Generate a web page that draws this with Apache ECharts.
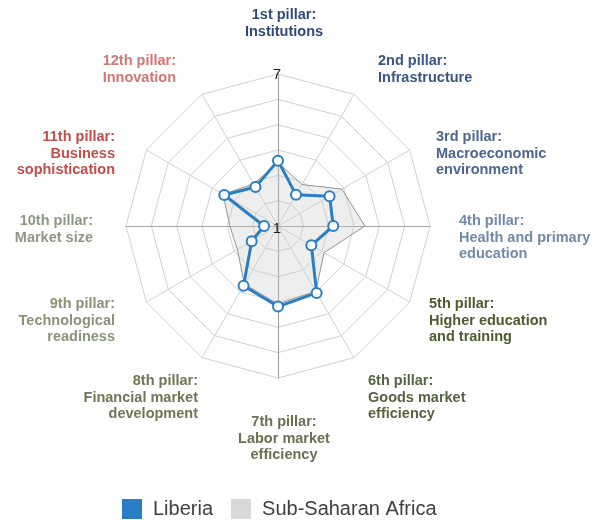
<!DOCTYPE html>
<html>
<head>
<meta charset="utf-8">
<script src="https://cdn.jsdelivr.net/npm/echarts@6/dist/echarts.min.js"></script>
<style>html,body{margin:0;padding:0;background:#fff}#c{width:603px;height:520px}</style>
</head>
<body>
<div id="c"></div>
<script>
// Indicators in clockwise order starting at the top
const pillarNames = [
  '1st pillar:\nInstitutions',
  '2nd pillar:\nInfrastructure',
  '3rd pillar:\nMacroeconomic\nenvironment',
  '4th pillar:\nHealth and primary\neducation',
  '5th pillar:\nHigher education\nand training',
  '6th pillar:\nGoods market\nefficiency',
  '7th pillar:\nLabor market\nefficiency',
  '8th pillar:\nFinancial market\ndevelopment',
  '9th pillar:\nTechnological\nreadiness',
  '10th pillar:\nMarket size',
  '11th pillar:\nBusiness\nsophistication',
  '12th pillar:\nInnovation'
];
const pillarColors = ['#2f4b7a','#3a5684','#4c6690','#7189aa','#4f5a2f','#5a6340','#6a7150','#6f7655','#8b9377','#8f9780','#c24e4c','#d27674'];
const liberia = [3.58, 2.42, 3.35, 3.18, 2.52, 4.05, 4.18, 3.72, 2.2, 1.55, 3.45, 2.78];
const ssa     = [3.5, 2.89, 3.91, 4.43, 3.1, 3.98, 4.08, 3.65, 2.85, 2.9, 3.5, 2.92];
const seriesNames = ['Liberia', 'Sub-Saharan Africa'];
const axisMin = 1, axisMax = 7;

// layout (not data): center, radius, and label anchor boxes
const cx = 278, cy = 226, R = 152;
const labelLayout = [
  [284, 7, 'center'], [378, 53, 'left'], [436, 129, 'left'], [459, 213, 'left'],
  [429, 296, 'left'], [368, 373, 'left'], [284, 414, 'center'], [198, 373, 'right'],
  [115, 296, 'right'], [93, 213, 'right'], [115, 129, 'right'], [176, 53, 'right']
];

// ECharts places radar indicators counter-clockwise; reorder to get clockwise
const order = [0].concat(pillarNames.map((_, i) => i).slice(1).reverse());
const re = arr => order.map(i => arr[i]);

const FONT = 'Liberation Sans, Arial, sans-serif';
const nameTexts = pillarNames.map((n, i) => ({
  type: 'text', x: labelLayout[i][0], y: labelLayout[i][1], z: 100,
  style: {text: n, fill: pillarColors[i], fontSize: 14.5, fontWeight: 'bold', fontFamily: FONT,
          lineHeight: 16.5, align: labelLayout[i][2], verticalAlign: 'top'}
}));

const chart = echarts.init(document.getElementById('c'), null, {renderer: 'canvas'});
chart.setOption({
  animation: false,
  textStyle: {fontFamily: FONT},
  legend: {
    top: 499,
    left: 122,
    padding: 0,
    itemWidth: 20, itemHeight: 20, itemGap: 18,
    textStyle: {fontSize: 20, color: '#404040', padding: [0, 0, 0, 6]},
    data: [
      {name: seriesNames[0], icon: 'rect', itemStyle: {color: '#2a7ec3', borderWidth: 0}},
      {name: seriesNames[1], icon: 'rect', itemStyle: {color: '#d9d9d9', borderWidth: 0}}
    ]
  },
  radar: [{
    center: [cx, cy], radius: R, shape: 'polygon', splitNumber: 6, startAngle: 90,
    indicator: re(pillarNames).map(n => ({name: n, min: axisMin, max: axisMax})),
    axisName: {show: false},
    splitLine: {lineStyle: {color: '#d0d0d0', width: 1}},
    splitArea: {show: false},
    axisLine: {lineStyle: {color: '#d0d0d0', width: 1}},
    axisTick: {show: false}, axisLabel: {show: false}
  }, {
    center: [cx, cy], radius: R, shape: 'polygon', splitNumber: 6, startAngle: 90,
    indicator: [0,1,2,3].map(() => ({name: '', min: axisMin, max: axisMax})),
    axisName: {show: false},
    splitLine: {show: false}, splitArea: {show: false},
    axisLine: {lineStyle: {color: '#a6a6a6', width: 1.2}},
    axisTick: {show: false}, axisLabel: {show: false}
  }],
  graphic: nameTexts.concat([
    {type: 'text', x: cx - 1, y: cy - R + 1, z: 100, style: {text: String(axisMax), fontSize: 15, fill: '#222', fontFamily: FONT, align: 'center', verticalAlign: 'middle'}},
    {type: 'text', x: cx - 1, y: cy + 3, z: 100, style: {text: String(axisMin), fontSize: 15, fill: '#222', fontFamily: FONT, align: 'center', verticalAlign: 'middle'}}
  ]),
  series: [{
    type: 'radar', radarIndex: 0, z: 2,
    data: [{
      name: seriesNames[1], value: re(ssa), symbol: 'none',
      lineStyle: {color: '#8a8a8a', width: 1},
      areaStyle: {color: 'rgba(200,200,200,0.45)'},
      itemStyle: {color: '#d9d9d9'}
    }]
  }, {
    type: 'radar', radarIndex: 0, z: 3,
    data: [{
      name: seriesNames[0], value: re(liberia), symbol: 'circle', symbolSize: 10,
      lineStyle: {color: '#2a7ec3', width: 3},
      itemStyle: {color: '#ffffff', borderColor: '#2a7ec3', borderWidth: 2}
    }]
  }]
});
</script>
</body>
</html>
